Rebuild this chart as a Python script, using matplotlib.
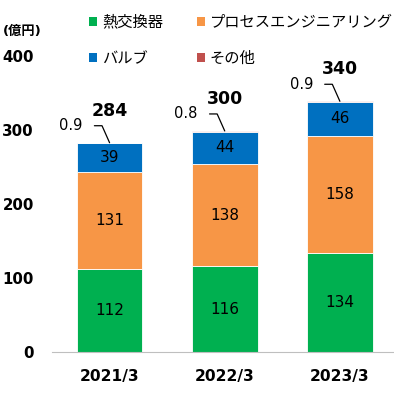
import matplotlib
matplotlib.use('Agg')
import matplotlib.pyplot as plt
from matplotlib.patches import Patch

plt.rcParams['font.family'] = ['DejaVu Sans', 'Noto Sans CJK JP']

# データ
years = ['2021/3', '2022/3', '2023/3']
heat_exchanger = [112, 116, 134]
process_eng = [131, 138, 158]
valve = [39, 44, 46]
other = [0.9, 0.8, 0.9]
totals = [284, 300, 340]

series_names = ['熱交換器', 'プロセスエンジニアリング', 'バルブ', 'その他']
colors = ['#00B050', '#F79646', '#0070C0', '#C0504D']

fig = plt.figure(figsize=(3.94, 4.09), dpi=100)
ax = fig.add_axes([0.132, 0.139, 0.868, 0.724])

x = list(range(len(years)))
bottom = [0, 0, 0]
for vals, col in zip([heat_exchanger, process_eng, valve, other], colors):
    ax.bar(x, vals, bottom=bottom, width=0.57, color=col, edgecolor='white', linewidth=0.6)
    # 値ラベル (その他は別で描く)
    if vals is not other:
        for i, v in enumerate(vals):
            ax.text(i, bottom[i] + v / 2, str(v), ha='center', va='center', fontsize=11, color='black')
    bottom = [b + v for b, v in zip(bottom, vals)]

# 合計とその他のラベル
for i in x:
    ax.annotate(str(totals[i]), xy=(i, bottom[i]), xytext=(0, 32), textcoords='offset pixels',
                ha='center', va='center', fontsize=12.5, fontweight='bold')
    ax.annotate(str(other[i]), xy=(i, bottom[i]), xytext=(-27, 17), textcoords='offset pixels',
                ha='right', va='center', fontsize=10.5,
                arrowprops=dict(arrowstyle='-', color='black', lw=0.9, relpos=(1, 0.5),
                                connectionstyle='angle,angleA=0,angleB=114,rad=0',
                                shrinkA=6.5, shrinkB=0))

ax.set_xlim(-0.5, 2.47)
ax.set_ylim(0, 400)
ax.set_yticks([0, 100, 200, 300, 400])
ax.set_xticks(x)
ax.set_xticklabels(years, fontsize=11.2, fontweight='bold')
for lab in ax.get_yticklabels():
    lab.set_fontweight('bold')
    lab.set_fontsize(10.8)
ax.tick_params(axis='both', length=0)
ax.tick_params(axis='y', pad=13)
ax.tick_params(axis='x', pad=12)
for s in ['top', 'right', 'left']:
    ax.spines[s].set_visible(False)
ax.spines['bottom'].set_color('#BFBFBF')

fig.text(0.008, 0.924, '(億円)', fontsize=9.5, fontweight='bold', va='center', ha='left')

# 凡例 (行ごとの並びにするため列順に並べる)
order = [0, 2, 1, 3]
handles = [Patch(facecolor=colors[k]) for k in order]
labels = [series_names[k] for k in order]
fig.legend(handles, labels, ncol=2, loc='upper left', bbox_to_anchor=(0.226, 0.964),
           frameon=False, fontsize=11, handlelength=0.55, handleheight=0.55,
           handletextpad=0.3, columnspacing=2.2, labelspacing=1.4,
           borderpad=0, borderaxespad=0)

plt.savefig('out.png', dpi=100)
